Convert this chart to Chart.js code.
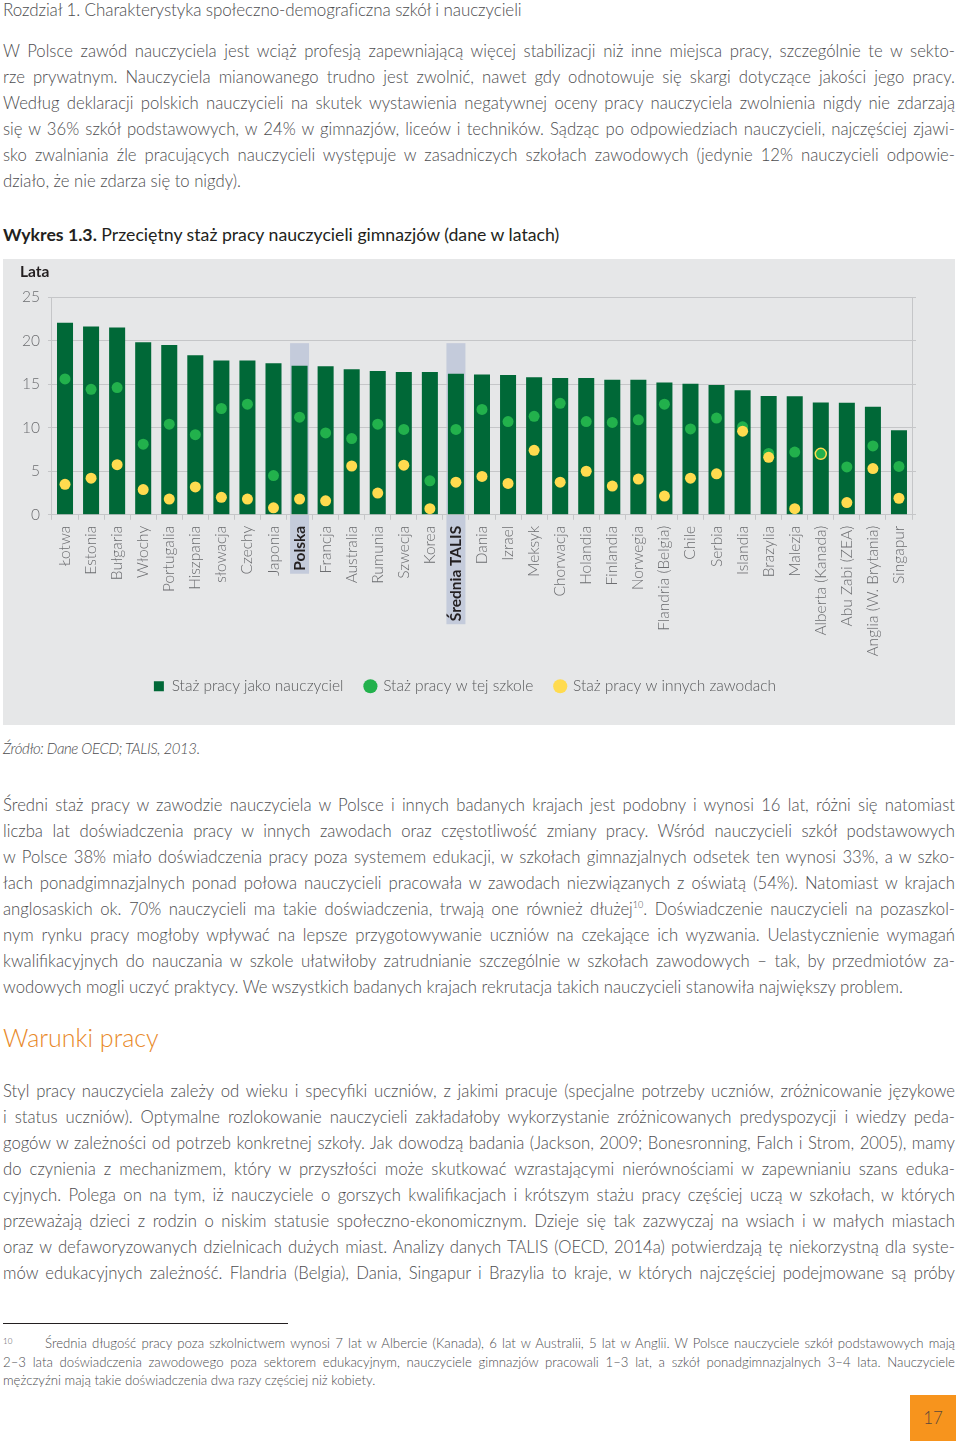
<!DOCTYPE html>
<html lang="pl">
<head>
<meta charset="utf-8">
<title>Wykres 1.3</title>
<script src="https://cdn.jsdelivr.net/npm/chart.js@4.4.1/dist/chart.umd.min.js"></script>
<style>
  html, body { margin: 0; padding: 0; background: #fff; }
  body { width: 960px; height: 1445px; position: relative; font-family: 'Lato', sans-serif; font-weight: 300; color: #4d4d4f; overflow: hidden; }
  .abs { position: absolute; left: 3px; width: 952px; }
  .txt { font-size: 16.7px; line-height: 26px; }
  .txt span { display: block; text-align: justify; text-align-last: justify; }
  .txt span.last { text-align: left; text-align-last: left; }
  .txt sup { font-size: 9px; line-height: 0; vertical-align: 7px; }
  #header { top: 0; font-size: 17px; line-height: 20px; letter-spacing: -0.1px; }
  #title { top: 224px; font-size: 17.7px; line-height: 22px; color: #231f20; font-weight: 400; }
  #title b { font-weight: 700; }
  #panel { position: absolute; left: 3px; top: 259px; width: 952px; height: 466px; background: #e6e7e8; }
  #lata { position: absolute; left: 17px; top: 3px; font-size: 15.5px; font-weight: 700; color: #231f20; }
  #chart { position: absolute; left: 0; top: 0; }
  #source { top: 737px; font-size: 15px; line-height: 22px; font-style: italic; letter-spacing: -0.4px; }
  #heading { top: 1021px; font-size: 25px; line-height: 32px; color: #e8892a; }
  #rule { position: absolute; left: 3px; top: 1323px; width: 285px; height: 1px; background: #231f20; }
  #foot { top: 1334px; font-size: 13.2px; line-height: 18.5px; }
  #foot .fn { position: absolute; left: 0; top: 0; font-size: 8px; line-height: 14px; }
  #page { position: absolute; left: 910px; top: 1395px; width: 46px; height: 46px; background: #f7941d; color: #5d4a3a; font-size: 17px; line-height: 46px; text-align: center; }
</style>
</head>
<body>

<div class="abs" id="header">Rozdział 1. Charakterystyka społeczno-demograficzna szkół i nauczycieli</div>

<div class="abs txt" style="top:38px">
  <span>W Polsce zawód nauczyciela jest wciąż profesją zapewniającą więcej stabilizacji niż inne miejsca pracy, szczególnie te w sekto-</span>
  <span>rze prywatnym. Nauczyciela mianowanego trudno jest zwolnić, nawet gdy odnotowuje się skargi dotyczące jakości jego pracy.</span>
  <span>Według deklaracji polskich nauczycieli na skutek wystawienia negatywnej oceny pracy nauczyciela zwolnienia nigdy nie zdarzają</span>
  <span>się w 36% szkół podstawowych, w 24% w gimnazjów, liceów i techników. Sądząc po odpowiedziach nauczycieli, najczęściej zjawi-</span>
  <span>sko zwalniania źle pracujących nauczycieli występuje w zasadniczych szkołach zawodowych (jedynie 12% nauczycieli odpowie-</span>
  <span class="last">działo, że nie zdarza się to nigdy).</span>
</div>

<div class="abs" id="title"><b>Wykres 1.3.</b> Przeciętny staż pracy nauczycieli gimnazjów (dane w latach)</div>

<div id="panel">
  <canvas id="chart" width="952" height="466"></canvas>
  <div id="lata">Lata</div>
</div>

<div class="abs" id="source">Źródło: Dane OECD; TALIS, 2013.</div>

<div class="abs txt" style="top:792px">
  <span>Średni staż pracy w zawodzie nauczyciela w Polsce i innych badanych krajach jest podobny i wynosi 16 lat, różni się natomiast</span>
  <span>liczba lat doświadczenia pracy w innych zawodach oraz częstotliwość zmiany pracy. Wśród nauczycieli szkół podstawowych</span>
  <span>w Polsce 38% miało doświadczenia pracy poza systemem edukacji, w szkołach gimnazjalnych odsetek ten wynosi 33%, a w szko-</span>
  <span>łach ponadgimnazjalnych ponad połowa nauczycieli pracowała w zawodach niezwiązanych z oświatą (54%). Natomiast w krajach</span>
  <span>anglosaskich ok. 70% nauczycieli ma takie doświadczenia, trwają one również dłużej<sup>10</sup>. Doświadczenie nauczycieli na pozaszkol-</span>
  <span>nym rynku pracy mogłoby wpływać na lepsze przygotowywanie uczniów na czekające ich wyzwania. Uelastycznienie wymagań</span>
  <span>kwalifikacyjnych do nauczania w szkole ułatwiłoby zatrudnianie szczególnie w szkołach zawodowych – tak, by przedmiotów za-</span>
  <span class="last">wodowych mogli uczyć praktycy. We wszystkich badanych krajach rekrutacja takich nauczycieli stanowiła największy problem.</span>
</div>

<div class="abs" id="heading">Warunki pracy</div>

<div class="abs txt" style="top:1078px">
  <span>Styl pracy nauczyciela zależy od wieku i specyfiki uczniów, z jakimi pracuje (specjalne potrzeby uczniów, zróżnicowanie językowe</span>
  <span>i status uczniów). Optymalne rozlokowanie nauczycieli zakładałoby wykorzystanie zróżnicowanych predyspozycji i wiedzy peda-</span>
  <span>gogów w zależności od potrzeb konkretnej szkoły. Jak dowodzą badania (Jackson, 2009; Bonesronning, Falch i Strom, 2005), mamy</span>
  <span>do czynienia z mechanizmem, który w przyszłości może skutkować wzrastającymi nierównościami w zapewnianiu szans eduka-</span>
  <span>cyjnych. Polega on na tym, iż nauczyciele o gorszych kwalifikacjach i krótszym stażu pracy częściej uczą w szkołach, w których</span>
  <span>przeważają dzieci z rodzin o niskim statusie społeczno-ekonomicznym. Dzieje się tak zazwyczaj na wsiach i w małych miastach</span>
  <span>oraz w defaworyzowanych dzielnicach dużych miast. Analizy danych TALIS (OECD, 2014a) potwierdzają tę niekorzystną dla syste-</span>
  <span>mów edukacyjnych zależność. Flandria (Belgia), Dania, Singapur i Brazylia to kraje, w których najczęściej podejmowane są próby</span>
</div>

<div id="rule"></div>

<div class="abs txt" id="foot">
  <div class="fn">10</div>
  <span style="padding-left:42px">Średnia długość pracy poza szkolnictwem wynosi 7 lat w Albercie (Kanada), 6 lat w Australii, 5 lat w Anglii. W Polsce nauczyciele szkół podstawowych mają</span>
  <span>2–3 lata doświadczenia zawodowego poza sektorem edukacyjnym, nauczyciele gimnazjów pracowali 1–3 lat, a szkół ponadgimnazjalnych 3–4 lata. Nauczyciele</span>
  <span class="last">mężczyźni mają takie doświadczenia dwa razy częściej niż kobiety.</span>
</div>

<div id="page">17</div>

<script>
// Chart data
const categories = ['Łotwa', 'Estonia', 'Bułgaria', 'Włochy', 'Portugalia', 'Hiszpania', 'słowacja', 'Czechy', 'Japonia', 'Polska',
    'Francja', 'Australia', 'Rumunia', 'Szwecja', 'Korea', 'Średnia TALIS', 'Dania', 'Izrael', 'Meksyk', 'Chorwacja',
    'Holandia', 'Finlandia', 'Norwegia', 'Flandria (Belgia)', 'Chile', 'Serbia', 'Islandia', 'Brazylia', 'Malezja',
    'Alberta (Kanada)', 'Abu Zabi (ZEA)', 'Anglia (W. Brytania)', 'Singapur'];

// Staż pracy jako nauczyciel
const teacherYears = [22.05, 21.6, 21.5, 19.8, 19.5, 18.3, 17.7, 17.7, 17.4, 17.1,
    17.05, 16.7, 16.5, 16.4, 16.4, 16.2, 16.1, 16.05, 15.8, 15.7,
    15.7, 15.5, 15.5, 15.2, 15.05, 14.9, 14.3, 13.65, 13.6,
    12.9, 12.85, 12.4, 9.7];

// Staż pracy w tej szkole
const schoolYears = [15.6, 14.4, 14.6, 8.1, 10.4, 9.2, 12.2, 12.7, 4.5, 11.2,
    9.4, 8.75, 10.4, 9.8, 3.9, 9.8, 12.1, 10.7, 11.3, 12.8,
    10.7, 10.6, 10.9, 12.7, 9.85, 11.1, 10.1, 7.05, 7.2,
    7.0, 5.5, 7.9, 5.55];

// Staż pracy w innych zawodach
const otherYears = [3.5, 4.2, 5.75, 2.9, 1.8, 3.2, 2.0, 1.8, 0.8, 1.8,
    1.6, 5.6, 2.5, 5.7, 0.7, 3.75, 4.4, 3.6, 7.4, 3.75,
    5.0, 3.3, 4.1, 2.15, 4.2, 4.7, 9.6, 6.6, 0.7,
    7.0, 1.4, 5.3, 1.9];

const seriesNames = ['Staż pracy jako nauczyciel', 'Staż pracy w tej szkole', 'Staż pracy w innych zawodach'];
const highlighted = ['Polska', 'Średnia TALIS'];
const yTicks = [0, 5, 10, 15, 20, 25];

//Colours
const darkGreen = '#006837';
const lightGreen = '#22b14c';
const yellow = '#ffdb4f';
const bandColor = '#c4cbdb';
const gridColor = '#c5c6c8';
const textColor = '#6d6e71';

const FONT = "'Lato', sans-serif";
const TICK_SIZE = 15.5;
Chart.defaults.font.family = FONT;
Chart.defaults.font.size = TICK_SIZE;
Chart.defaults.color = textColor;

//Light blue band behind Poland and the TALIS average (bar + label)
const highlightBands = {
    id: 'highlightBands',
    beforeDraw(chart) {
        const {ctx, scales: {x, y}} = chart;
        ctx.save();
        ctx.fillStyle = bandColor;
        ctx.font = 'bold ' + TICK_SIZE + 'px ' + FONT;
        highlighted.forEach(name => {
            const i = categories.indexOf(name);
            const cx = x.getPixelForValue(i);
            const top = y.getPixelForValue(19.7);
            const bottom = y.bottom + 11 + ctx.measureText(name).width + 3;
            ctx.fillRect(cx - 9.5, top, 19, bottom - top);
        });
        ctx.restore();
    }
};

const isHighlighted = c => highlighted.includes(categories[c.index]);

new Chart(document.getElementById('chart').getContext('2d'), {
    type: 'bar',
    data: {
        labels: categories,
        datasets: [{
            type: 'line',
            label: seriesNames[2],
            data: otherYears,
            showLine: false,
            pointRadius: 5.5,
            pointHoverRadius: 5.5,
            //where both points coincide the green one shows through with a yellow ring
            pointBackgroundColor: c => otherYears[c.dataIndex] === schoolYears[c.dataIndex] ? lightGreen : yellow,
            pointBorderColor: yellow,
            pointBorderWidth: c => otherYears[c.dataIndex] === schoolYears[c.dataIndex] ? 1.5 : 0,
            backgroundColor: yellow,
            borderColor: yellow,
            order: 1
        }, {
            type: 'line',
            label: seriesNames[1],
            data: schoolYears,
            showLine: false,
            pointRadius: 5.5,
            pointHoverRadius: 5.5,
            pointBackgroundColor: lightGreen,
            pointBorderWidth: 0,
            backgroundColor: lightGreen,
            borderColor: lightGreen,
            order: 2
        }, {
            label: seriesNames[0],
            data: teacherYears,
            backgroundColor: darkGreen,
            pointStyle: 'rect',
            categoryPercentage: 1,
            barPercentage: 0.615,
            order: 3
        }]
    },
    options: {
        responsive: false,
        animation: false,
        devicePixelRatio: 1,
        layout: {
            padding: {left: 11, right: 39, top: 38, bottom: 21}
        },
        scales: {
            x: {
                offset: true,
                //labels may run a little into the space above the legend
                afterFit: axis => { axis.height -= 6; },
                grid: {
                    offset: true,
                    drawOnChartArea: false,
                    drawTicks: true,
                    tickLength: 5,
                    color: gridColor
                },
                border: {color: gridColor},
                ticks: {
                    autoSkip: false,
                    maxRotation: 90,
                    minRotation: 90,
                    padding: 6,
                    font: c => ({family: FONT, size: TICK_SIZE, weight: isHighlighted(c) ? 'bold' : '300'}),
                    color: c => isHighlighted(c) ? '#231f20' : textColor
                }
            },
            y: {
                min: yTicks[0],
                max: yTicks[yTicks.length - 1],
                afterBuildTicks: axis => { axis.ticks = yTicks.map(v => ({value: v})); },
                grid: {color: gridColor, tickLength: 4},
                border: {color: gridColor},
                ticks: {
                    padding: 8,
                    font: {family: FONT, size: TICK_SIZE, weight: '300'},
                    color: textColor
                }
            },
            y2: {
                position: 'right',
                min: yTicks[0],
                max: yTicks[yTicks.length - 1],
                afterBuildTicks: axis => { axis.ticks = yTicks.map(v => ({value: v})); },
                grid: {drawOnChartArea: false, color: gridColor, tickLength: 4},
                border: {color: gridColor},
                ticks: {display: false}
            }
        },
        plugins: {
            legend: {
                position: 'bottom',
                labels: {
                    usePointStyle: true,
                    boxWidth: 10,
                    boxHeight: 10,
                    padding: 22,
                    color: '#58595b',
                    font: {family: FONT, size: TICK_SIZE, weight: '300'},
                    sort: (a, b) => b.datasetIndex - a.datasetIndex
                }
            },
            tooltip: {enabled: false}
        }
    },
    plugins: [highlightBands]
});
</script>
</body>
</html>
